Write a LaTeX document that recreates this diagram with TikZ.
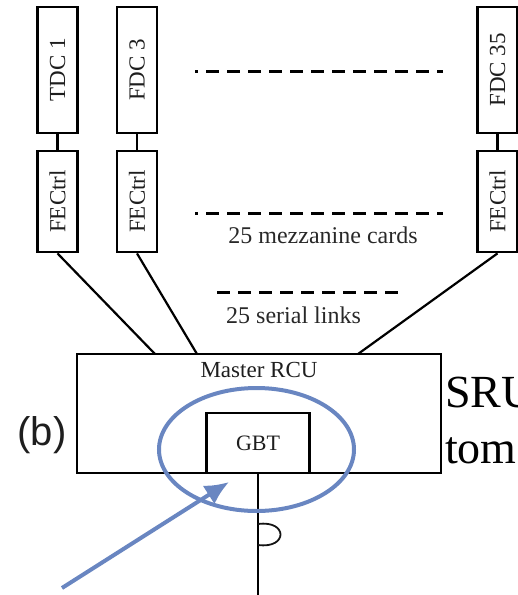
\documentclass[tikz,border=0pt]{standalone}
\usepackage{fontspec}
\usepackage{graphicx}
\setmainfont{Liberation Serif}
\newfontfamily\tagsans{Liberation Sans}
\usetikzlibrary{shapes.geometric}
\usetikzlibrary{arrows.meta}

\begin{document}
\begin{tikzpicture}[x=1pt, y=-1pt,
    cardBox/.style={rectangle, draw={rgb,255:red,0;green,0;blue,0}, line width=2.8pt, minimum width=40, inner sep=0pt, text={rgb,255:red,30;green,30;blue,30}, font=\fontsize{23}{23}\selectfont},
    unitBox/.style={rectangle, draw={rgb,255:red,0;green,0;blue,0}, line width=2.8pt, inner sep=0pt, text={rgb,255:red,30;green,30;blue,30}, font=\fontsize{22}{22}\selectfont},
    link/.style={draw={rgb,255:red,0;green,0;blue,0}, line width=2.2pt},
    gapLine/.style={draw={rgb,255:red,0;green,0;blue,0}, line width=3pt, dash pattern=on 13pt off 8pt},
    noteText/.style={text={rgb,255:red,40;green,40;blue,40}, font=\fontsize{24}{24}\selectfont, inner sep=0pt}]

    \useasboundingbox (0,0) rectangle (518,595);
    \clip (0,0) rectangle (518,595);

    \node[cardBox, minimum height=126] (tdcA) at (57.5,70) {\rotatebox{90}{TDC 1}};
    \node[cardBox, minimum height=126] (tdcB) at (137,70) {\rotatebox{90}{FDC 3}};
    \node[cardBox, minimum height=126] (tdcC) at (497.5,70) {\rotatebox{90}{FDC 35}};
    \node[cardBox, minimum height=101] (fecA) at (57.5,201.5) {\rotatebox{90}{FECtrl}};
    \node[cardBox, minimum height=101] (fecB) at (137,201.5) {\rotatebox{90}{FECtrl}};
    \node[cardBox, minimum height=101] (fecC) at (497.5,201.5) {\rotatebox{90}{FECtrl}};

    \node[unitBox, minimum width=364, minimum height=119, label={[anchor=north, yshift=-6pt, text={rgb,255:red,30;green,30;blue,30}, font=\fontsize{23}{23}\selectfont]north:Master RCU}] (rcu) at (259,413.5) {};
    \node[unitBox, minimum width=103, minimum height=60] (gbt) at (258,443) {GBT};

    \draw[link] (tdcA) -- (fecA);
    \draw[link] (tdcB) -- (fecB);
    \draw[link] (tdcC) -- (fecC);

    \coordinate (inA) at (155,354);
    \coordinate (inB) at (197,354);
    \coordinate (inC) at (358,354);
    \draw[link] (fecA.south) -- (inA);
    \draw[link] (fecB.south) -- (inB);
    \draw[link] (fecC.south) -- (inC);

    \coordinate (outEnd) at (258,600);
    \draw[link] (gbt.south) -- (outEnd);
    \coordinate (hook) at (258,524);
    \draw[draw={rgb,255:red,20;green,20;blue,20}, line width=1.8pt] (hook) .. controls (288,520) and (288,549) .. (258,545);

    \coordinate (dotsA) at (195,71);
    \coordinate (dotsB) at (443,71);
    \coordinate (cardsA) at (195,213);
    \coordinate (cardsB) at (443,213);
    \coordinate (linksA) at (217,292);
    \coordinate (linksB) at (403,292);
    \draw[gapLine, dash phase=10pt] (dotsA) -- (dotsB);
    \draw[gapLine, dash phase=10pt] (cardsA) -- (cardsB);
    \draw[gapLine] (linksA) -- (linksB);

    \node[noteText] (cardsNote) at (323,235) {25 mezzanine cards};
    \node[noteText, anchor=west] (linksNote) at (226,315) {25 serial links};

    \node[anchor=base, inner sep=0pt, font=\tagsans\fontsize{40}{40}\selectfont, text={rgb,255:red,30;green,30;blue,30}] (tagB) at (42,445) {(b)};
    \node[anchor=base west, inner sep=0pt, font=\fontsize{46}{46}\selectfont] (sruLine) at (445,407) {SRU};
    \node[anchor=base west, inner sep=0pt, font=\fontsize{46}{46}\selectfont] (tomLine) at (445,463) {tom};

    \node[ellipse, draw={rgb,255:red,105;green,134;blue,193}, line width=4pt, minimum width=195, minimum height=123, inner sep=0pt] (ring) at (256.5,449.5) {};
    \coordinate (arrowTail) at (62,588);
    \coordinate (arrowTip) at (229,482);
    \draw[draw={rgb,255:red,105;green,134;blue,193}, fill={rgb,255:red,105;green,134;blue,193}, line width=4pt, -{Latex[length=24pt, width=22pt]}] (arrowTail) -- (arrowTip);
\end{tikzpicture}
\end{document}
